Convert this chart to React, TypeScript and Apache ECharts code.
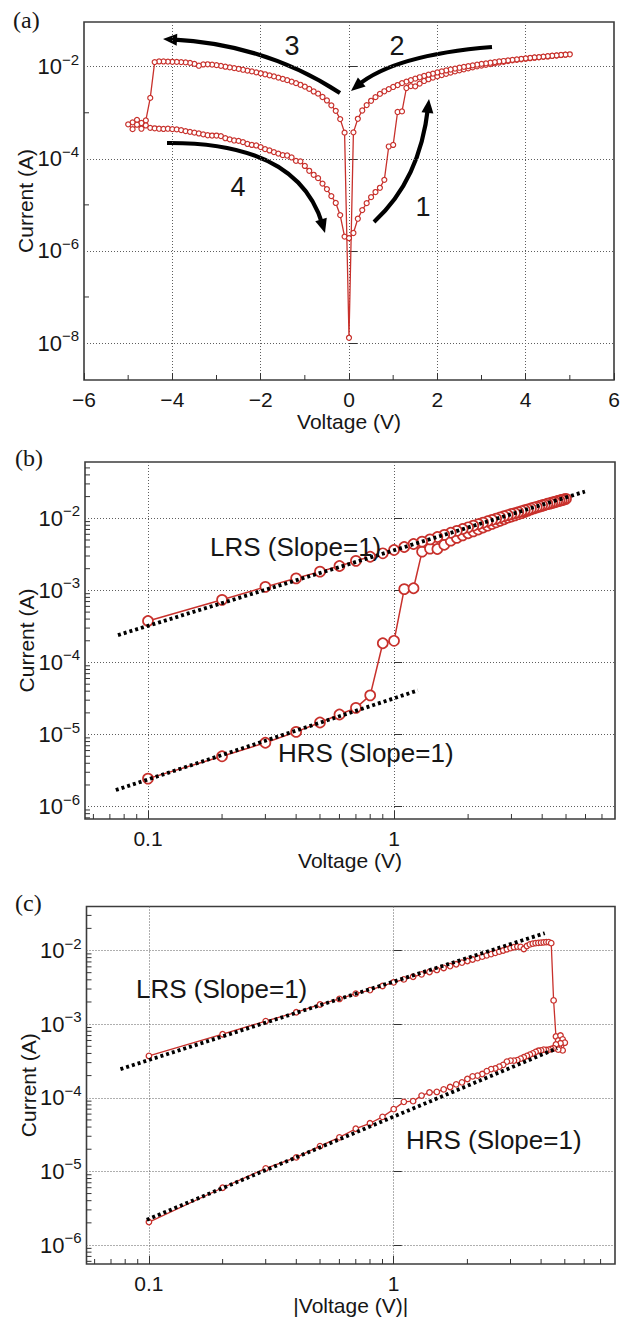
import React, { useEffect, useRef } from 'react';
import * as echarts from 'echarts';

// ---------------- data ----------------
const V_STEP = [0.1, 0.2, 0.3, 0.4, 0.5, 0.6, 0.7, 0.8, 0.9, 1.0, 1.1, 1.2, 1.3, 1.4, 1.5, 1.6, 1.7, 1.8, 1.9, 2.0,
  2.1, 2.2, 2.3, 2.4, 2.5, 2.6, 2.7, 2.8, 2.9, 3.0, 3.1, 3.2, 3.3, 3.4, 3.5, 3.6, 3.7, 3.8, 3.9, 4.0,
  4.1, 4.2, 4.3, 4.4, 4.5, 4.6, 4.7, 4.8, 4.9, 5.0];

// sweep 1: 0 -> +5 V (HRS, SET)
const SWEEP1_I = [2.45e-6, 5.0e-6, 7.7e-6, 1.09e-5, 1.47e-5, 1.9e-5, 2.35e-5, 3.5e-5, 1.85e-4, 2.0e-4,
  1.04e-3, 1.07e-3, 3.45e-3, 3.8e-3, 3.75e-3, 4.3e-3, 4.9e-3, 5.35e-3, 5.8e-3, 6.2e-3,
  6.6e-3, 7.0e-3, 7.45e-3, 7.9e-3, 8.35e-3, 8.8e-3, 9.25e-3, 9.7e-3, 1.02e-2, 1.06e-2,
  1.1e-2, 1.14e-2, 1.18e-2, 1.23e-2, 1.28e-2, 1.33e-2, 1.37e-2, 1.41e-2, 1.45e-2, 1.49e-2,
  1.53e-2, 1.57e-2, 1.6e-2, 1.64e-2, 1.67e-2, 1.71e-2, 1.75e-2, 1.78e-2, 1.82e-2, 1.86e-2];
// sweep 2: +5 -> 0 V (LRS), listed at V = 0.1 .. 4.9
const SWEEP2_I = [3.76e-4, 7.4e-4, 1.12e-3, 1.47e-3, 1.82e-3, 2.18e-3, 2.57e-3, 2.93e-3, 3.27e-3, 3.63e-3,
  4.0e-3, 4.4e-3, 4.75e-3, 5.1e-3, 5.5e-3, 5.9e-3, 6.3e-3, 6.7e-3, 7.1e-3, 7.5e-3,
  7.9e-3, 8.3e-3, 8.7e-3, 9.1e-3, 9.5e-3, 9.9e-3, 1.03e-2, 1.07e-2, 1.11e-2, 1.15e-2,
  1.18e-2, 1.22e-2, 1.26e-2, 1.3e-2, 1.33e-2, 1.37e-2, 1.41e-2, 1.44e-2, 1.48e-2, 1.52e-2,
  1.55e-2, 1.59e-2, 1.62e-2, 1.66e-2, 1.69e-2, 1.73e-2, 1.76e-2, 1.8e-2, 1.83e-2];
// sweep 3: 0 -> -5 V (LRS, RESET), listed at |V| = 0.1 .. 5.0
const SWEEP3_I = [3.7e-4, 7.3e-4, 1.1e-3, 1.45e-3, 1.85e-3, 2.2e-3, 2.6e-3, 2.9e-3, 3.3e-3, 3.7e-3,
  4.05e-3, 4.4e-3, 4.75e-3, 5.1e-3, 5.45e-3, 5.8e-3, 6.15e-3, 6.5e-3, 6.85e-3, 7.2e-3,
  7.55e-3, 7.9e-3, 8.25e-3, 8.6e-3, 8.95e-3, 9.3e-3, 9.65e-3, 1.0e-2, 1.04e-2, 1.08e-2,
  1.11e-2, 1.13e-2, 1.12e-2, 1.05e-2, 1.15e-2, 1.21e-2, 1.24e-2, 1.26e-2, 1.27e-2, 1.28e-2,
  1.29e-2, 1.3e-2, 1.3e-2, 1.26e-2, 2.1e-3, 6.8e-4, 6.0e-4, 7.0e-4, 6.2e-4, 5.6e-4];
// sweep 4: -5 -> 0 V (HRS), listed at |V| = 0.1 .. 4.9
const SWEEP4_I = [2.05e-6, 6.0e-6, 1.1e-5, 1.55e-5, 2.2e-5, 2.9e-5, 3.8e-5, 4.5e-5, 5.5e-5, 7.0e-5,
  8.8e-5, 9.0e-5, 1.07e-4, 1.18e-4, 1.2e-4, 1.3e-4, 1.4e-4, 1.52e-4, 1.62e-4, 1.8e-4,
  1.95e-4, 2.0e-4, 2.1e-4, 2.3e-4, 2.45e-4, 2.5e-4, 2.65e-4, 2.8e-4, 3.1e-4, 3.2e-4,
  3.2e-4, 3.25e-4, 3.4e-4, 3.55e-4, 3.7e-4, 3.85e-4, 4.0e-4, 4.2e-4, 4.35e-4, 4.4e-4,
  4.5e-4, 4.45e-4, 4.5e-4, 4.6e-4, 4.7e-4, 5.3e-4, 4.5e-4, 5.5e-4, 4.4e-4];
// currents at 0 V: [between sweeps 4 and 1, between sweeps 2 and 3]
const ZERO_I = [1.9e-6, 1.3e-8];

// slope-1 guide lines (endpoints)
const FIT_B_LRS_V = [0.0755, 5.97];
const FIT_B_LRS_I = [2.4e-4, 2.35e-2];
const FIT_B_HRS_V = [0.074, 1.25];
const FIT_B_HRS_I = [1.7e-6, 4.1e-5];
const FIT_C_LRS_V = [0.0765, 4.14];
const FIT_C_LRS_I = [2.45e-4, 1.72e-2];
const FIT_C_HRS_V = [0.098, 4.65];
const FIT_C_HRS_I = [2.2e-6, 4.7e-4];

// axis ticks
const A_X_MINOR = [-5, -3, -1, 1, 3, 5];
const A_Y_MINOR_EXP = [-7, -5, -3];
const LOG_X_MINOR = [0.06, 0.07, 0.08, 0.09, 0.2, 0.3, 0.4, 0.5, 0.6, 0.7, 0.8, 0.9, 2, 3, 4, 5, 6, 7];
const MANTISSAS = [2, 3, 4, 5, 6, 7, 8, 9];
const DECADES = [-7, -6, -5, -4, -3, -2];

// ---------------- style ----------------
const FONT = "'Liberation Sans', Arial, Helvetica, sans-serif";
const SERIF = "'Liberation Serif', 'Times New Roman', serif";
const RED = '#c8312c';
const TXT = '#161616';
const GRID_LINE = { color: '#5e5e5e', width: 1, type: [1, 2] };

const lg = Math.log10;

// axis ranges (log10 for log axes)
const A_Y = [-8.803, -1.029];
const B_X = [-1.256, 0.898];
const B_Y = [-6.171, -1.219];
const C_X = [-1.255, 0.904];
const C_Y = [-6.258, -1.402];

function yLabel(v: number) {
  const r = Math.round(v);
  if (Math.abs(v - r) > 1e-6) return '';
  return `{b|10}{s|\u2212${-r}}`;
}
function xLogLabel(v: number) {
  if (Math.abs(v + 1) < 1e-6) return '0.1';
  if (Math.abs(v) < 1e-6) return '1';
  return '';
}

const richLabel = {
  b: { fontSize: 22, fontFamily: FONT, color: TXT, lineHeight: 30 },
  s: { fontSize: 15, fontFamily: FONT, color: TXT, verticalAlign: 'top' },
};

const X_LABEL = { margin: 9, fontSize: 21, lineHeight: 21, fontFamily: FONT, color: TXT };
const X_NAME = { fontSize: 21, lineHeight: 21, fontFamily: FONT, color: TXT };
const X_NAME_GAP = 31;

function yAxisDef(gridIndex: number, ext: number[], step: number) {
  return {
    type: 'value', gridIndex, min: ext[0], max: ext[1], minInterval: step, maxInterval: step,
    axisLine: { show: false },
    axisTick: { show: true, inside: true, length: 8, lineStyle: { color: '#333', width: 1 } },
    splitLine: { show: true, showMinLine: false, showMaxLine: false, lineStyle: GRID_LINE },
    axisLabel: { formatter: yLabel, margin: 5, showMinLabel: false, showMaxLabel: false, rich: richLabel },
    name: 'Current (A)', nameLocation: 'middle', nameGap: 48, nameRotate: 90, nameMoveOverlap: false,
    nameTextStyle: { fontSize: 21, fontFamily: FONT, color: TXT },
  };
}
function xLogAxisDef(gridIndex: number, ext: number[], name: string) {
  return {
    type: 'value', gridIndex, min: ext[0], max: ext[1], minInterval: 1, maxInterval: 1,
    axisLine: { show: false },
    axisTick: { show: true, inside: true, length: 8, lineStyle: { color: '#333', width: 1 } },
    splitLine: { show: true, showMinLine: false, showMaxLine: false, lineStyle: GRID_LINE },
    axisLabel: { ...X_LABEL, formatter: xLogLabel, showMinLabel: false, showMaxLabel: false },
    name, nameLocation: 'middle', nameGap: X_NAME_GAP, nameMoveOverlap: false,
    nameTextStyle: X_NAME,
  };
}

function tickSeries(axisIndex: number, pts: number[][], dir: 'x' | 'y', len: number) {
  return {
    type: 'custom', xAxisIndex: axisIndex, yAxisIndex: axisIndex, silent: true, z: 4,
    data: pts,
    renderItem: (_p: any, api: any) => {
      const p = api.coord([api.value(0), api.value(1)]);
      const shape = dir === 'x'
        ? { x1: p[0], y1: p[1], x2: p[0], y2: p[1] - len }
        : { x1: p[0], y1: p[1], x2: p[0] + len, y2: p[1] };
      return { type: 'line', shape, style: { stroke: '#333', lineWidth: 1 } };
    },
  };
}

function dataSeries(idx: number, data: number[][], size: number, lw: number, bw: number) {
  return {
    type: 'line', xAxisIndex: idx, yAxisIndex: idx, data, symbol: 'circle', symbolSize: size,
    showSymbol: true, showAllSymbol: true, z: 3,
    lineStyle: { color: RED, width: lw },
    itemStyle: { color: '#fff', borderColor: RED, borderWidth: bw },
  };
}
function fitSeries(idx: number, vs: number[], is: number[]) {
  return {
    type: 'line', xAxisIndex: idx, yAxisIndex: idx, symbol: 'none', z: 6,
    data: vs.map((v, i) => [lg(v), lg(is[i])]),
    lineStyle: { color: '#000', width: 3.8, type: [3, 3] },
  };
}

// arrows (annotation graphics, pixel space)
type Arrow = { p0: number[]; cp: number[]; tip: number[] };
const ARROWS: Arrow[] = [
  { p0: [340, 93], cp: [265, 44], tip: [163, 39] },
  { p0: [492, 47], cp: [394, 55], tip: [351, 91] },
  { p0: [167, 143], cp: [298, 142], tip: [325, 233] },
  { p0: [374, 222], cp: [420, 180], tip: [429, 99] },
];
function arrowGraphics(a: Arrow) {
  const dx = a.tip[0] - a.cp[0], dy = a.tip[1] - a.cp[1];
  const L = Math.hypot(dx, dy);
  const ux = dx / L, uy = dy / L, nx = -uy, ny = ux;
  const headLen = 14, halfW = 6;
  const bx = a.tip[0] - ux * headLen, by = a.tip[1] - uy * headLen;
  const ex = a.tip[0] - ux * headLen * 0.6, ey = a.tip[1] - uy * headLen * 0.6;
  return [
    {
      type: 'bezierCurve', silent: true,
      shape: { x1: a.p0[0], y1: a.p0[1], cpx1: a.cp[0], cpy1: a.cp[1], x2: ex, y2: ey },
      style: { stroke: '#000', lineWidth: 4.2, fill: null },
    },
    {
      type: 'polygon', silent: true,
      shape: { points: [[a.tip[0], a.tip[1]], [bx + nx * halfW, by + ny * halfW], [bx - nx * halfW, by - ny * halfW]] },
      style: { fill: '#000' },
    },
  ];
}
function txt(text: string, x: number, y: number, size: number, family: string, align = 'left') {
  return {
    type: 'text', x, y, silent: true, z: 10,
    style: { text, fontSize: size, fontFamily: family, fill: TXT, align, verticalAlign: 'middle', textAlign: align, textVerticalAlign: 'middle' },
  };
}

export default function App() {
  const ref = useRef<HTMLDivElement>(null);
  useEffect(() => {
    if (!ref.current) return;
    const chart = echarts.init(ref.current, null, { renderer: 'svg' });

    const posUp = V_STEP.map((v, i) => [v, SWEEP1_I[i]]);
    const posDown = V_STEP.slice(0, SWEEP2_I.length).map((v, i) => [v, SWEEP2_I[i]]).reverse();
    const negOut = V_STEP.map((v, i) => [-v, SWEEP3_I[i]]);
    const negBack = V_STEP.slice(0, SWEEP4_I.length).map((v, i) => [-v, SWEEP4_I[i]]).reverse();

    const dataA = [[0, ZERO_I[0]], ...posUp, ...posDown, [0, ZERO_I[1]], ...negOut, ...negBack, [0, ZERO_I[0]]]
      .map(([v, i]) => [v, lg(i)]);
    const dataB = [...posUp, ...posDown].map(([v, i]) => [lg(v), lg(i)]);
    const dataC = [...negOut, ...negBack].map(([v, i]) => [lg(Math.abs(v)), lg(i)]);

    const yMinor = (ext: number[]) => {
      const out: number[] = [];
      DECADES.forEach((e) => MANTISSAS.forEach((m) => {
        const l = lg(m * Math.pow(10, e));
        if (l > ext[0] + 0.005 && l < ext[1] - 0.005) out.push(l);
      }));
      return out;
    };
    const xMinor = (ext: number[]) => LOG_X_MINOR.map(lg).filter((l) => l > ext[0] && l < ext[1]);

    const grids = [
      { left: 84, top: 22, width: 530, height: 358 },
      { left: 85, top: 462, width: 530, height: 357 },
      { left: 86.5, top: 906.5, width: 528.5, height: 357.5 },
    ].map((g) => ({ ...g, show: true, borderColor: '#3c3c3c', borderWidth: 1.6, backgroundColor: 'transparent', containLabel: false, outerBoundsMode: 'none' }));

    const option: any = {
      animation: false,
      backgroundColor: '#fff',
      grid: grids,
      xAxis: [
        {
          type: 'value', gridIndex: 0, min: -6, max: 6, interval: 2,
          axisLine: { show: false },
          axisTick: { show: true, inside: true, length: 7, lineStyle: { color: '#333', width: 1 } },
          splitLine: { show: true, showMinLine: false, showMaxLine: false, lineStyle: GRID_LINE },
          axisLabel: { ...X_LABEL, formatter: (v: number) => (v < 0 ? '\u2212' + -v : String(v)) },
          name: 'Voltage (V)', nameLocation: 'middle', nameGap: X_NAME_GAP, nameMoveOverlap: false,
          nameTextStyle: X_NAME,
        },
        xLogAxisDef(1, B_X, 'Voltage (V)'),
        xLogAxisDef(2, C_X, '|Voltage (V)|'),
      ],
      yAxis: [yAxisDef(0, A_Y, 2), yAxisDef(1, B_Y, 1), yAxisDef(2, C_Y, 1)],
      series: [
        dataSeries(0, dataA, 5, 1.3, 1.2),
        dataSeries(1, dataB, 10, 1.5, 1.7),
        dataSeries(2, dataC, 5.5, 1.3, 1.3),
        fitSeries(1, FIT_B_LRS_V, FIT_B_LRS_I),
        fitSeries(1, FIT_B_HRS_V, FIT_B_HRS_I),
        fitSeries(2, FIT_C_LRS_V, FIT_C_LRS_I),
        fitSeries(2, FIT_C_HRS_V, FIT_C_HRS_I),
        tickSeries(0, A_X_MINOR.map((v) => [v, A_Y[0]]), 'x', 5),
        tickSeries(0, A_Y_MINOR_EXP.map((e) => [-6, e]), 'y', 5),
        tickSeries(1, xMinor(B_X).map((l) => [l, B_Y[0]]), 'x', 5),
        tickSeries(1, yMinor(B_Y).map((l) => [B_X[0], l]), 'y', 5),
        tickSeries(2, xMinor(C_X).map((l) => [l, C_Y[0]]), 'x', 5),
        tickSeries(2, yMinor(C_Y).map((l) => [C_X[0], l]), 'y', 5),
      ],
      graphic: [
        txt('(a)', 13, 20, 24, SERIF),
        txt('(b)', 15, 458, 24, SERIF),
        txt('(c)', 15, 903, 24, SERIF),
        txt('LRS (Slope=1)', 210, 547, 26, FONT),
        txt('HRS (Slope=1)', 278, 753, 26, FONT),
        txt('LRS (Slope=1)', 136, 989, 26, FONT),
        txt('HRS (Slope=1)', 406, 1140, 26, FONT),
        txt('3', 292, 46, 27, FONT, 'center'),
        txt('2', 397, 46, 27, FONT, 'center'),
        txt('4', 238, 187, 27, FONT, 'center'),
        txt('1', 423, 207, 27, FONT, 'center'),
        ...ARROWS.flatMap(arrowGraphics),
      ],
    };
    chart.setOption(option);
    return () => chart.dispose();
  }, []);
  return <div ref={ref} style={{ position: 'absolute', left: 0, top: 0, width: 627, height: 1317 }} />;
}
